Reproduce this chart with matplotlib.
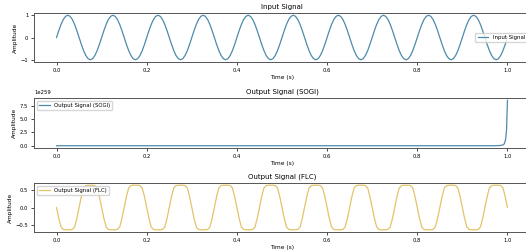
import numpy as np
import matplotlib
matplotlib.use("Agg")
import matplotlib.pyplot as plt

# sample times (0 .. 1 s, 5 ms step)
time = np.linspace(0, 1, 201)

input_signal = [
    0, 0.31, 0.59, 0.81, 0.95, 1.0, 0.95, 0.81, 0.59, 0.31, 0, -0.31, -0.59, -0.81, -0.95, -1.0, -0.95, -0.81, -0.59, -0.31,
    0, 0.31, 0.59, 0.81, 0.95, 1.0, 0.95, 0.81, 0.59, 0.31, 0, -0.31, -0.59, -0.81, -0.95, -1.0, -0.95, -0.81, -0.59, -0.31,
    0, 0.31, 0.59, 0.81, 0.95, 1.0, 0.95, 0.81, 0.59, 0.31, 0, -0.31, -0.59, -0.81, -0.95, -1.0, -0.95, -0.81, -0.59, -0.31,
    0, 0.31, 0.59, 0.81, 0.95, 1.0, 0.95, 0.81, 0.59, 0.31, 0, -0.31, -0.59, -0.81, -0.95, -1.0, -0.95, -0.81, -0.59, -0.31,
    0, 0.31, 0.59, 0.81, 0.95, 1.0, 0.95, 0.81, 0.59, 0.31, 0, -0.31, -0.59, -0.81, -0.95, -1.0, -0.95, -0.81, -0.59, -0.31,
    0, 0.31, 0.59, 0.81, 0.95, 1.0, 0.95, 0.81, 0.59, 0.31, 0, -0.31, -0.59, -0.81, -0.95, -1.0, -0.95, -0.81, -0.59, -0.31,
    0, 0.31, 0.59, 0.81, 0.95, 1.0, 0.95, 0.81, 0.59, 0.31, 0, -0.31, -0.59, -0.81, -0.95, -1.0, -0.95, -0.81, -0.59, -0.31,
    0, 0.31, 0.59, 0.81, 0.95, 1.0, 0.95, 0.81, 0.59, 0.31, 0, -0.31, -0.59, -0.81, -0.95, -1.0, -0.95, -0.81, -0.59, -0.31,
    0, 0.31, 0.59, 0.81, 0.95, 1.0, 0.95, 0.81, 0.59, 0.31, 0, -0.31, -0.59, -0.81, -0.95, -1.0, -0.95, -0.81, -0.59, -0.31,
    0, 0.31, 0.59, 0.81, 0.95, 1.0, 0.95, 0.81, 0.59, 0.31, 0, -0.31, -0.59, -0.81, -0.95, -1.0, -0.95, -0.81, -0.59, -0.31,
    0,
]

flc_output = [
    0, -0.32, -0.57, -0.64, -0.65, -0.65, -0.65, -0.64, -0.57, -0.32, 0, 0.32, 0.57, 0.64, 0.65, 0.65, 0.65, 0.64, 0.57, 0.32,
    0, -0.32, -0.57, -0.64, -0.65, -0.65, -0.65, -0.64, -0.57, -0.32, 0, 0.32, 0.57, 0.64, 0.65, 0.65, 0.65, 0.64, 0.57, 0.32,
    0, -0.32, -0.57, -0.64, -0.65, -0.65, -0.65, -0.64, -0.57, -0.32, 0, 0.32, 0.57, 0.64, 0.65, 0.65, 0.65, 0.64, 0.57, 0.32,
    0, -0.32, -0.57, -0.64, -0.65, -0.65, -0.65, -0.64, -0.57, -0.32, 0, 0.32, 0.57, 0.64, 0.65, 0.65, 0.65, 0.64, 0.57, 0.32,
    0, -0.32, -0.57, -0.64, -0.65, -0.65, -0.65, -0.64, -0.57, -0.32, 0, 0.32, 0.57, 0.64, 0.65, 0.65, 0.65, 0.64, 0.57, 0.32,
    0, -0.32, -0.57, -0.64, -0.65, -0.65, -0.65, -0.64, -0.57, -0.32, 0, 0.32, 0.57, 0.64, 0.65, 0.65, 0.65, 0.64, 0.57, 0.32,
    0, -0.32, -0.57, -0.64, -0.65, -0.65, -0.65, -0.64, -0.57, -0.32, 0, 0.32, 0.57, 0.64, 0.65, 0.65, 0.65, 0.64, 0.57, 0.32,
    0, -0.32, -0.57, -0.64, -0.65, -0.65, -0.65, -0.64, -0.57, -0.32, 0, 0.32, 0.57, 0.64, 0.65, 0.65, 0.65, 0.64, 0.57, 0.32,
    0, -0.32, -0.57, -0.64, -0.65, -0.65, -0.65, -0.64, -0.57, -0.32, 0, 0.32, 0.57, 0.64, 0.65, 0.65, 0.65, 0.64, 0.57, 0.32,
    0, -0.32, -0.57, -0.64, -0.65, -0.65, -0.65, -0.64, -0.57, -0.32, 0, 0.32, 0.57, 0.64, 0.65, 0.65, 0.65, 0.64, 0.57, 0.32,
    0,
]

# SOGI output blows up right at the end
sogi_time = [0.0, 0.97, 0.98, 0.985, 0.99, 0.993, 0.996, 0.998, 1.0]
sogi_output = [0.0, 0.0, 0.02e259, 0.06e259, 0.15e259, 0.35e259, 1.2e259, 3.0e259, 8.5e259]

x_ticks = [0.0, 0.2, 0.4, 0.6, 0.8, 1.0]

plt.rcParams['font.family'] = 'DejaVu Sans'
plt.rcParams['axes.linewidth'] = 0.7
plt.rcParams['axes.edgecolor'] = '#555555'
plt.rcParams['xtick.major.size'] = 2
plt.rcParams['ytick.major.size'] = 2
plt.rcParams['xtick.major.width'] = 0.5
plt.rcParams['ytick.major.width'] = 0.5
plt.rcParams['xtick.major.pad'] = 2
plt.rcParams['ytick.major.pad'] = 2

fig = plt.figure(figsize=(5.26, 2.52), dpi=100)

left = 34 / 526
width = 496 / 526
ax1 = fig.add_axes([left, 1 - 62 / 252, width, 49 / 252])
ax2 = fig.add_axes([left, 1 - 148 / 252, width, 50 / 252])
ax3 = fig.add_axes([left, 1 - 232 / 252, width, 49 / 252])

blue = '#4d8bab'
yellow = '#e2c46a'

ax1.plot(time, input_signal, color=blue, lw=0.9, label='Input Signal')
ax1.set_title('Input Signal', fontsize=5, pad=3)
ax1.set_yticks([-1, 0, 1])
ax1.legend(loc='center right', fontsize=3.9)

ax2.plot(sogi_time, sogi_output, color=blue, lw=0.9, label='Output Signal (SOGI)')
ax2.set_title('Output Signal (SOGI)', fontsize=5, pad=3)
ax2.legend(loc='upper left', fontsize=3.9)

ax3.plot(time, flc_output, color=yellow, lw=0.9, label='Output Signal (FLC)')
ax3.set_title('Output Signal (FLC)', fontsize=5, pad=3)
ax3.legend(loc='upper left', fontsize=3.9)

for ax in (ax1, ax2, ax3):
    ax.set_xticks(x_ticks)
    ax.set_xlabel('Time (s)', fontsize=4.2, labelpad=1.5)
    ax.set_ylabel('Amplitude', fontsize=4.2, labelpad=2)
    ax.tick_params(labelsize=3.8)
    ax.yaxis.get_offset_text().set_fontsize(3.8)

fig.savefig('out.png', dpi=100)
